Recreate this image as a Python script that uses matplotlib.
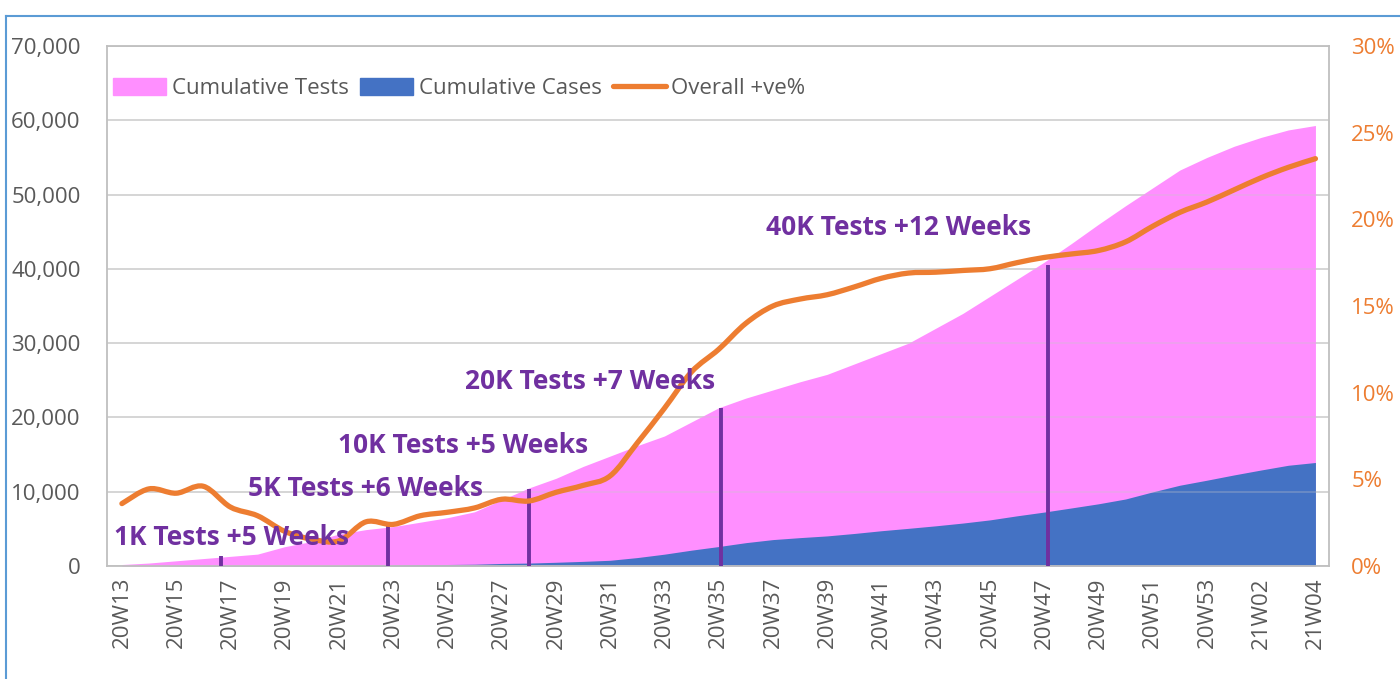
import numpy as np
import matplotlib.pyplot as plt
from matplotlib.path import Path
from matplotlib.patches import PathPatch, Patch
from matplotlib.lines import Line2D
from matplotlib.ticker import FuncFormatter

plt.rcParams['font.family'] = ['Open Sans', 'DejaVu Sans']

# week labels 20W13 .. 20W53, 21W01 .. 21W04
weeks = ['20W%02d' % w for w in range(13, 54)] + ['21W%02d' % w for w in range(1, 5)]

# cumulative tests
tests = [200, 400, 700, 1000, 1300, 1600, 2600, 3300, 4300, 4900,
         5300, 5900, 6500, 7300, 8900, 10500, 11800, 13400, 14800, 16200,
         17500, 19400, 21300, 22600, 23700, 24800, 25800, 27200, 28600, 30000,
         32000, 34000, 36300, 38600, 40900, 43400, 46000, 48500, 50900, 53300,
         55000, 56500, 57700, 58700, 59300]

# cumulative cases
cases = [7, 18, 30, 46, 48, 50, 52, 55, 65, 122,
         125, 171, 201, 241, 343, 395, 500, 623, 770, 1134,
         1593, 2134, 2620, 3141, 3555, 3819, 4051, 4379, 4748, 5070,
         5408, 5780, 6207, 6755, 7260, 7812, 8372, 9021, 9976, 10873,
         11550, 12260, 12925, 13560, 13935]

# overall positivity (%)
pos_rate = [3.6, 4.45, 4.2, 4.6, 3.4, 2.9, 2.0, 1.55, 1.45, 2.55,
            2.4, 2.9, 3.1, 3.35, 3.85, 3.75, 4.25, 4.65, 5.2, 7.1,
            9.1, 11.2, 12.5, 14.0, 15.0, 15.4, 15.65, 16.1, 16.6, 16.9,
            16.95, 17.05, 17.15, 17.5, 17.8, 18.0, 18.2, 18.7, 19.6, 20.4,
            21.0, 21.7, 22.4, 23.0, 23.5]

# milestones (position in weeks from 20W13, tests reached)
milestone_x = [3.65, 9.8, 15.0, 22.1, 34.15]
milestone_h = [1300, 5500, 10400, 21300, 40500]
milestone_labels = ['1K Tests +5 Weeks', '5K Tests +6 Weeks', '10K Tests +5 Weeks',
                    '20K Tests +7 Weeks', '40K Tests +12 Weeks']


def smooth_path(xs, ys):
    # excel style smoothed line (catmull-rom -> bezier)
    xs = np.asarray(xs, float)
    ys = np.asarray(ys, float)
    n = len(xs)
    verts = [(xs[0], ys[0])]
    codes = [Path.MOVETO]
    for i in range(n - 1):
        a = i - 1 if i > 0 else i
        d = i + 2 if i + 2 < n else i + 1
        c1 = (xs[i] + (xs[i + 1] - xs[a]) / 6, ys[i] + (ys[i + 1] - ys[a]) / 6)
        c2 = (xs[i + 1] - (xs[d] - xs[i]) / 6, ys[i + 1] - (ys[d] - ys[i]) / 6)
        verts += [c1, c2, (xs[i + 1], ys[i + 1])]
        codes += [Path.CURVE4] * 3
    return Path(verts, codes)


W, H = 1400, 679
fig = plt.figure(figsize=(W / 100, H / 100), dpi=100)
ax = fig.add_axes([107 / W, 1 - 566 / H, (1329 - 107) / W, (566 - 46) / H])

x = np.arange(len(weeks))
pink = '#FF8FFF'
blue = '#4472C4'
orange = '#ED7D31'
purple = '#7030A0'
gray = '#595959'

ax.fill_between(x, tests, color=pink, lw=0, zorder=1)
ax.fill_between(x, cases, color=blue, lw=0, zorder=2)
ax.vlines(milestone_x, 0, milestone_h, color=purple, lw=2.8, zorder=4)

ax.set_xlim(-0.55, len(weeks) - 0.5)
ax.set_ylim(0, 70000)
ax.set_yticks(range(0, 70001, 10000))
ax.yaxis.set_major_formatter(FuncFormatter(lambda v, p: '{:,.0f}'.format(v)))
ax.set_xticks(x[::2])
ax.set_xticklabels(weeks[::2], rotation=90)
ax.grid(axis='y', color='#D9D9D9', lw=1.3, zorder=0)
ax.set_axisbelow(True)
# faint grid showing through the areas
for v in range(10000, 70000, 10000):
    ax.axhline(v, color='#C8C8C8', lw=1.3, alpha=0.3, zorder=3)
ax.tick_params(axis='y', length=0, labelsize=16, colors=gray, pad=19)
ax.tick_params(axis='x', length=0, labelsize=16, colors=gray, pad=8)
for s in ax.spines.values():
    s.set_color('#BFBFBF')
    s.set_linewidth(1.3)

ax2 = ax.twinx()
ax2.set_ylim(0, 30)
ax2.set_yticks(range(0, 31, 5))
ax2.yaxis.set_major_formatter(FuncFormatter(lambda v, p: '%d%%' % v))
ax2.tick_params(axis='y', length=0, labelsize=16, colors=orange, pad=16)
for s in ax2.spines.values():
    s.set_visible(False)
ax2.add_patch(PathPatch(smooth_path(x, pos_rate), fill=False, edgecolor=orange,
                        lw=3.8, capstyle='round', joinstyle='round', zorder=5))

# milestone texts
text_pos = [(-0.28, 3900), (4.65, 10400), (7.97, 16200), (12.66, 24800), (23.76, 45600)]
for (tx, ty), lab in zip(text_pos, milestone_labels):
    ax2.text(tx, ty * 30 / 70000, lab, color=purple, fontsize=19, fontweight='bold',
             ha='left', va='center', zorder=6)

handles = [Patch(color=pink, label='Cumulative Tests'),
           Patch(color=blue, label='Cumulative Cases'),
           Line2D([], [], color=orange, lw=3.8, solid_capstyle='round', label='Overall +ve%')]
ax2.legend(handles=handles, loc='center left', bbox_to_anchor=(-0.008, 0.919), ncol=3,
           frameon=False, fontsize=16, labelcolor=gray, handlelength=2.4,
           handleheight=0.8, handletextpad=0.25, columnspacing=0.5, borderpad=0.2)

# chart border (light blue)
fig.add_artist(Line2D([6 / W, 6 / W], [0, 1 - 16 / H], color='#5B9BD5', lw=1.5))
fig.add_artist(Line2D([6 / W, 1], [1 - 16 / H, 1 - 16 / H], color='#5B9BD5', lw=1.5))

plt.savefig('out.png', dpi=100)
